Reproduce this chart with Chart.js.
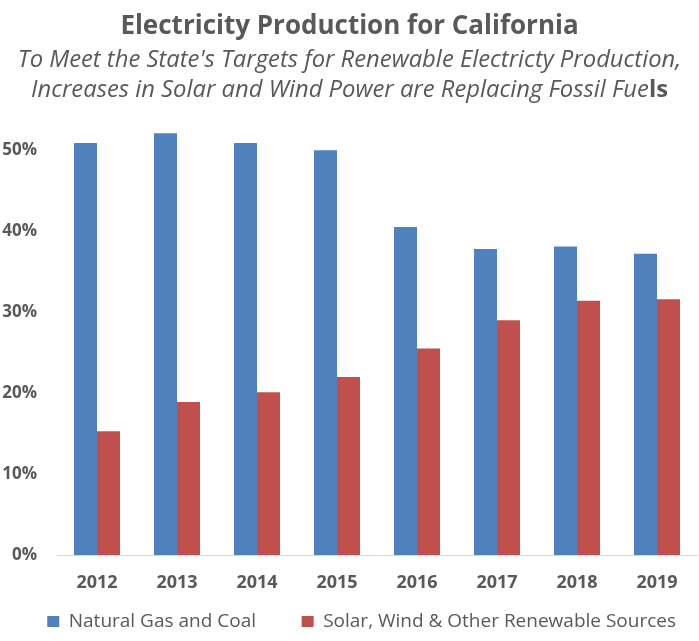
<!DOCTYPE html>
<html lang="en">
<head>
    <meta charset="UTF-8">
    <title>Electricity Production for California</title>
    <script src="https://cdn.jsdelivr.net/npm/chart.js"></script>
    <style>
        html, body { margin: 0; padding: 0; background: #fff; }
        #wrap { width: 699px; height: 641px; }
    </style>
</head>
<body>
    <div id="wrap"><canvas id="chart" width="699" height="641"></canvas></div>
    <script>
        const years = ['2012', '2013', '2014', '2015', '2016', '2017', '2018', '2019'];
        const fossil = [50.9, 52.1, 50.9, 50.0, 40.5, 37.8, 38.1, 37.2];
        const renewable = [15.3, 18.9, 20.1, 22.0, 25.5, 29.0, 31.4, 31.6];
        const seriesNames = ['Natural Gas and Coal', 'Solar, Wind & Other Renewable Sources'];
        const titleText = 'Electricity Production for California';
        const subtitleLines = [
            "To Meet the State's Targets for Renewable Electricty Production,",
            'Increases in Solar and Wind Power are Replacing Fossil Fuels'
        ];

        const grey = '#595959';
        const font = "'Open Sans', 'Noto Sans', sans-serif";
        const subSize = 23.8, subLine = 30, subPadTop = 3;

        // subtitle drawn by hand so the last "ls" can be bold like the original
        const subtitleDraw = {
            id: 'subtitleDraw',
            afterDraw(chart) {
                const ctx = chart.ctx;
                const cx = chart.width / 2;
                const top = chart.titleBlock.bottom + subPadTop;
                ctx.save();
                ctx.fillStyle = grey;
                ctx.textBaseline = 'middle';
                ctx.textAlign = 'left';
                subtitleLines.forEach((line, i) => {
                    const y = top + subLine / 2 + i * subLine;
                    let runs = [{ t: line, f: `italic normal ${subSize}px ${font}` }];
                    if (i === subtitleLines.length - 1) {
                        runs = [
                            { t: line.slice(0, -2), f: `italic normal ${subSize}px ${font}` },
                            { t: line.slice(-2), f: `normal bold ${subSize}px ${font}` }
                        ];
                    }
                    let total = 0;
                    runs.forEach(r => { ctx.font = r.f; r.w = ctx.measureText(r.t).width; total += r.w; });
                    let x = cx - total / 2;
                    runs.forEach(r => { ctx.font = r.f; ctx.fillText(r.t, x, y); x += r.w; });
                });
                ctx.restore();
            }
        };

        new Chart(document.getElementById('chart'), {
            type: 'bar',
            data: {
                labels: years,
                datasets: [
                    { label: seriesNames[0], data: fossil, backgroundColor: '#4F81BD' },
                    { label: seriesNames[1], data: renewable, backgroundColor: '#C0504D' }
                ]
            },
            options: {
                responsive: false,
                animation: false,
                layout: { padding: { left: 2, right: 2, top: 0, bottom: 0 } },
                datasets: { bar: { barPercentage: 1, categoryPercentage: 0.575 } },
                scales: {
                    x: {
                        grid: { display: false, drawTicks: false },
                        border: { display: true, color: '#D9D9D9', width: 1 },
                        ticks: { color: grey, padding: 17, font: { family: font, size: 18, weight: 'bold' } },
                        afterFit(scale) { scale.height = 36; }
                    },
                    y: {
                        min: 0,
                        max: 55,
                        grid: { display: false, drawTicks: false },
                        border: { display: false },
                        ticks: {
                            stepSize: 10,
                            color: grey,
                            padding: 20,
                            font: { family: font, size: 17, weight: 'bold' },
                            callback: v => (v % 10 === 0 ? v + '%' : '')
                        },
                        afterFit(scale) { scale.width = 55; }
                    }
                },
                plugins: {
                    title: {
                        display: true,
                        text: titleText,
                        color: grey,
                        font: { family: font, size: 26, weight: 'bold', lineHeight: 1.2 },
                        padding: { top: 11, bottom: 0 }
                    },
                    subtitle: {
                        display: true,
                        text: subtitleLines,
                        color: 'rgba(0,0,0,0)',
                        font: { family: font, size: subSize, style: 'italic', weight: 'normal', lineHeight: subLine / subSize },
                        padding: { top: subPadTop, bottom: 4.5 }
                    },
                    legend: {
                        position: 'bottom',
                        align: 'end',
                        labels: {
                            color: grey,
                            boxWidth: 12,
                            boxHeight: 11,
                            padding: 21,
                            font: { family: font, size: 19 },
                            generateLabels(chart) {
                                const items = Chart.defaults.plugins.legend.labels.generateLabels(chart);
                                items[0].text = items[0].text + '     ';
                                return items;
                            }
                        }
                    },
                    tooltip: { enabled: false }
                }
            },
            plugins: [subtitleDraw]
        });
    </script>
</body>
</html>
